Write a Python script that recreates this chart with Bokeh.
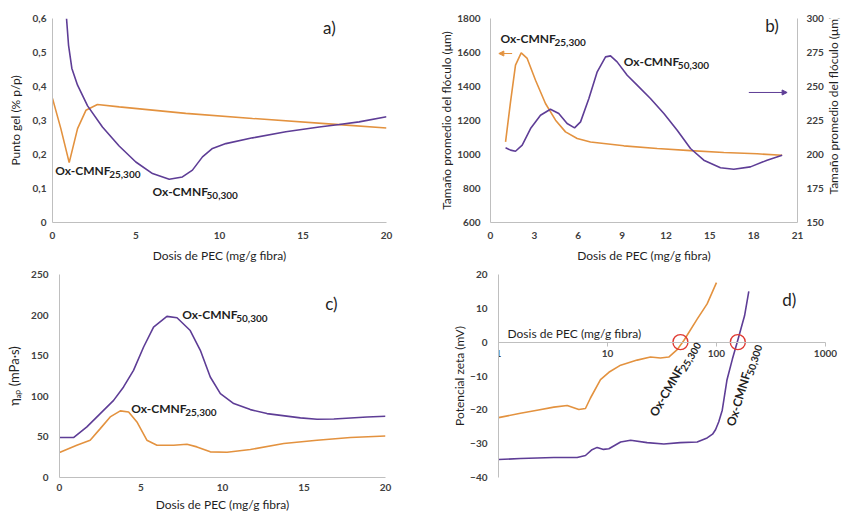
import math
from bokeh.plotting import figure
from bokeh.layouts import row, column
from bokeh.models import (Range1d, LinearAxis, FixedTicker, CustomJSTickFormatter,
                          PrintfTickFormatter, Label, Arrow, NormalHead)
from bokeh.embed import file_html
from bokeh.resources import INLINE

ORANGE = "#E3923F"
PURPLE = "#5E3D96"
FONT = "Lato"
TXT = "#1f1f1f"

# ---------------- data ----------------
# a) Punto gel vs dosis
a_xticks = [0, 5, 10, 15, 20]
a_yticks = [0, 0.1, 0.2, 0.3, 0.4, 0.5, 0.6]
a_org_x = [0, 0.5, 1.0, 1.5, 2.0, 2.69, 4.0, 7.98, 11.98, 17.17, 20]
a_org_y = [0.365, 0.276, 0.176, 0.276, 0.330, 0.347, 0.340, 0.321, 0.306, 0.288, 0.278]
a_pur_x = [0.84, 0.96, 1.16, 1.50, 2.10, 2.99, 3.99, 4.99, 5.99, 6.99, 7.78, 8.38,
           8.98, 9.58, 10.38, 11.98, 13.97, 15.97, 17.17, 18.36, 20]
a_pur_y = [0.600, 0.522, 0.453, 0.404, 0.343, 0.281, 0.225, 0.178, 0.144, 0.127, 0.134,
           0.154, 0.193, 0.218, 0.232, 0.249, 0.267, 0.281, 0.288, 0.296, 0.311]

# b) Tamano del floculo
b_xticks = [0, 3, 6, 9, 12, 15, 18, 21]
b_lticks = [600, 800, 1000, 1200, 1400, 1600, 1800]
b_rticks = [150, 175, 200, 225, 250, 275, 300]
b_org_x = [1.03, 1.37, 1.71, 2.10, 2.51, 3.08, 3.76, 4.45, 5.13, 5.93, 6.84, 9.12,
           11.4, 13.68, 15.96, 18.24, 19.95]
b_org_y = [1074, 1310, 1526, 1598, 1565, 1437, 1300, 1202, 1133, 1094, 1074, 1051,
           1035, 1023, 1012, 1004, 996]
b_pur_x = [1.03, 1.37, 1.71, 2.17, 2.74, 3.42, 4.10, 4.67, 5.24, 5.75, 6.16, 6.73,
           7.30, 7.87, 8.21, 8.66, 9.35, 10.03, 10.94, 11.86, 12.77, 13.68, 14.59,
           15.73, 16.64, 17.78, 18.92, 19.95]
b_pur_y = [204.9, 203.2, 202.4, 206.9, 219.1, 228.9, 233.3, 230.1, 222.8, 219.6, 224.0,
           241.2, 260.8, 271.8, 272.5, 268.1, 258.3, 251.0, 241.2, 230.1, 217.9, 204.4,
           195.8, 190.2, 189.2, 190.9, 195.8, 199.5]

# c) Viscosidad aparente
c_xticks = [0, 5, 10, 15, 20]
c_yticks = [0, 50, 100, 150, 200, 250]
c_pur_x = [0, 0.86, 1.68, 2.50, 3.32, 3.93, 4.54, 5.16, 5.77, 6.59, 7.21, 8.02, 8.64,
           9.25, 9.87, 10.69, 11.71, 12.73, 14.78, 15.8, 16.83, 18.87, 20]
c_pur_y = [49.2, 49.2, 62.3, 78.7, 95, 111.5, 132, 160.7, 185.2, 198.4, 196.7, 181,
           156.6, 123.8, 103.3, 91, 83.6, 78.7, 73.4, 71.7, 72.1, 74.6, 75.4]
c_org_x = [0, 1.06, 1.88, 2.5, 3.11, 3.73, 4.24, 4.75, 5.36, 5.98, 7.0, 7.82, 8.43,
           9.25, 10.28, 11.71, 13.76, 15.8, 17.85, 20]
c_org_y = [30.7, 39.8, 45.9, 60.2, 74.6, 82, 80.7, 68.4, 45.9, 39.8, 39.8, 41, 37.7,
           31.6, 31.1, 34.4, 41.8, 45.9, 49.2, 51.2]

# d) Potencial zeta (x logaritmico)
d_xticks = [1, 10, 100, 1000]
d_yticks = [-40, -30, -20, -10, 0, 10, 20]
d_org_x = [1.0, 1.59, 2.26, 3.22, 4.27, 5.46, 6.28, 6.98, 8.63, 10.3, 13.2, 18.7,
           24.8, 30.6, 36.5, 43.6, 50.2, 66.5, 82.1, 100]
d_org_y = [-22.3, -21.0, -20.1, -19.2, -18.7, -19.9, -19.6, -16.5, -11.1, -8.9, -6.8,
           -5.3, -4.4, -4.7, -4.4, -2.2, 0.5, 6.8, 11.3, 17.6]
d_pur_x = [1.0, 1.59, 3.22, 5.27, 6.28, 7.13, 8.04, 9.2, 10.3, 13.2, 16.3, 23.1, 32.9,
           46.5, 66.5, 82.1, 92, 98, 105, 113, 125, 140, 155, 181, 198]
d_pur_y = [-34.7, -34.4, -34.1, -34.1, -33.5, -31.9, -31.1, -31.7, -31.5, -29.5, -29.0,
           -29.7, -30.1, -29.7, -29.5, -28.3, -27.2, -25.9, -23.5, -20.1, -11.1, -5.0,
           0.0, 7.8, 15.0]
d_iep_x = [46.7, 157]   # puntos isoelectricos marcados
d_iep_y = [0, 0]

X_TITLE = "Dosis de PEC (mg/g fibra)"
B_Y_TITLE = "Tamaño promedio del flóculo (μm)"


# ---------------- helpers ----------------
def base_fig(w, h, left, right, top, bottom, xr, yr, x_axis_type="linear"):
    p = figure(width=w, height=h, x_range=xr, y_range=yr, x_axis_type=x_axis_type,
               output_backend="svg", toolbar_location=None,
               min_border_left=left, min_border_right=right,
               min_border_top=top, min_border_bottom=bottom)
    p.outline_line_color = None
    p.xgrid.visible = False
    p.ygrid.visible = False
    p.background_fill_color = "white"
    p.border_fill_color = "white"
    return p


def style_axis(ax):
    ax.axis_line_color = "#BFBFBF"
    ax.axis_line_width = 1
    ax.major_tick_line_color = None
    ax.minor_tick_line_color = None
    ax.major_tick_out = 0
    ax.major_tick_in = 0
    ax.major_label_text_font = FONT
    ax.major_label_text_font_size = "10px"
    ax.major_label_text_font_style = "bold"
    ax.major_label_text_color = "#404040"
    ax.axis_label_text_font = FONT
    ax.axis_label_text_font_size = "12px"
    ax.axis_label_text_font_style = "normal"
    ax.axis_label_text_color = TXT


def ox_label(p, x, y, sub, angle=0.0, **kw):
    w = 54.0
    c, s = math.cos(angle), math.sin(angle)
    common = dict(angle=angle, text_font=FONT, text_font_style="bold", text_color=TXT,
                  text_baseline="middle", text_align="left", **kw)
    p.add_layout(Label(x=x, y=y, text="Ox-CMNF", text_font_size="12px", **common))
    p.add_layout(Label(x=x, y=y, x_offset=w * c + 4 * s, y_offset=w * s - 4 * c,
                       text=sub, text_font_size="10px", **common))


def panel_tag(p, x, y, text):
    p.add_layout(Label(x=x, y=y, text=text, text_font=FONT, text_font_size="17px",
                       text_color=TXT, text_baseline="middle", text_align="left"))


# ---------------- a) ----------------
pa = base_fig(420, 266, 52, 34, 18, 44, Range1d(0, 20), Range1d(0, 0.6))
for ax in (pa.xaxis[0], pa.yaxis[0]):
    style_axis(ax)
pa.xaxis.ticker = FixedTicker(ticks=a_xticks)
pa.yaxis.ticker = FixedTicker(ticks=a_yticks)
pa.yaxis.formatter = CustomJSTickFormatter(
    code="return tick == 0 ? '0' : tick.toFixed(1).replace('.', ',');")
pa.xaxis.axis_label = X_TITLE
pa.yaxis.axis_label = "Punto gel (% p/p)"
pa.xaxis.major_label_standoff = 9
pa.xaxis.axis_label_standoff = 6
pa.yaxis.major_label_standoff = 6
pa.yaxis.axis_label_standoff = 7
pa.line(a_org_x, a_org_y, line_color=ORANGE, line_width=1.6)
pa.line(a_pur_x, a_pur_y, line_color=PURPLE, line_width=1.6)
ox_label(pa, 0.16, 0.154, "25,300")
ox_label(pa, 5.99, 0.090, "50,300")
panel_tag(pa, 16.2, 0.575, "a)")

# ---------------- b) ----------------
pb = base_fig(406, 266, 70, 29, 18, 44, Range1d(0, 21), Range1d(600, 1800))
pb.extra_y_ranges = {"right": Range1d(150, 300)}
rax = LinearAxis(y_range_name="right", ticker=FixedTicker(ticks=b_rticks))
pb.add_layout(rax, "right")
for ax in (pb.xaxis[0], pb.yaxis[0], rax):
    style_axis(ax)
pb.xaxis.ticker = FixedTicker(ticks=b_xticks)
pb.yaxis[0].ticker = FixedTicker(ticks=b_lticks)
pb.xaxis.axis_label = X_TITLE
pb.yaxis[0].axis_label = B_Y_TITLE
pb.xaxis.major_label_standoff = 9
pb.xaxis.axis_label_standoff = 6
pb.yaxis[0].major_label_standoff = 10
pb.yaxis[0].axis_label_standoff = 0
rax.major_label_standoff = 9
pb.line(b_org_x, b_org_y, line_color=ORANGE, line_width=1.6)
pb.line(b_pur_x, b_pur_y, line_color=PURPLE, line_width=1.6, y_range_name="right")
pb.add_layout(Arrow(end=NormalHead(size=5, fill_color=ORANGE, line_color=ORANGE),
                    x_start=1.48, y_start=1594, x_end=0.57, y_end=1594,
                    line_color=ORANGE, line_width=1))
pb.add_layout(Arrow(end=NormalHead(size=5, fill_color=PURPLE, line_color=PURPLE),
                    x_start=17.67, y_start=245.6, x_end=20.29, y_end=245.6,
                    line_color=PURPLE, line_width=1, y_range_name="right"))
ox_label(pb, 0.68, 1682, "25,300")
ox_label(pb, 9.12, 1545, "50,300")
panel_tag(pb, 18.8, 1757, "b)")

# title of the secondary (right) axis, reading bottom-to-top as in the reference
pr = figure(width=16, height=266, x_range=Range1d(0, 1), y_range=Range1d(0, 1),
            output_backend="svg", toolbar_location=None, min_border=0,
            x_axis_location=None, y_axis_location=None)
pr.outline_line_color = None
pr.xgrid.visible = False
pr.ygrid.visible = False
pr.add_layout(Label(x=0.45, y=0.575, text=B_Y_TITLE, angle=math.pi / 2,
                    text_font=FONT, text_font_size="12px", text_color=TXT,
                    text_align="center", text_baseline="middle"))

# ---------------- c) ----------------
pc = base_fig(420, 248, 59, 35, 8, 37, Range1d(0, 20), Range1d(0, 250))
for ax in (pc.xaxis[0], pc.yaxis[0]):
    style_axis(ax)
pc.xaxis.ticker = FixedTicker(ticks=c_xticks)
pc.yaxis.ticker = FixedTicker(ticks=c_yticks)
pc.xaxis.axis_label = X_TITLE
pc.yaxis.axis_label = "ηₐₚ (mPa·s)"
pc.yaxis.axis_label_text_font_size = "13px"
pc.xaxis.major_label_standoff = 6
pc.xaxis.axis_label_standoff = 3
pc.yaxis.major_label_standoff = 11
pc.yaxis.axis_label_standoff = 6
pc.line(c_pur_x, c_pur_y, line_color=PURPLE, line_width=1.6)
pc.line(c_org_x, c_org_y, line_color=ORANGE, line_width=1.6)
ox_label(pc, 7.53, 200.7, "50,300")
ox_label(pc, 4.4, 84.6, "25,300")
panel_tag(pc, 16.3, 214, "c)")

# ---------------- d) ----------------
pd = base_fig(422, 248, 78, 5, 8, 17, Range1d(1, 1290), Range1d(-40, 20), x_axis_type="log")
for ax in (pd.xaxis[0], pd.yaxis[0]):
    style_axis(ax)
pd.xaxis.fixed_location = 0
pd.xaxis.bounds = (1, 1000)
pd.xaxis.ticker = FixedTicker(ticks=d_xticks)
pd.xaxis.formatter = PrintfTickFormatter(format="%d")
pd.xaxis.major_tick_line_color = "#BFBFBF"
pd.xaxis.major_tick_out = 4
pd.xaxis.major_label_standoff = 4
pd.yaxis.ticker = FixedTicker(ticks=d_yticks)
pd.yaxis.axis_label = "Potencial zeta (mV)"
pd.yaxis.major_label_standoff = 11
pd.yaxis.axis_label_standoff = 0
pd.line(d_org_x, d_org_y, line_color=ORANGE, line_width=1.6)
pd.line(d_pur_x, d_pur_y, line_color=PURPLE, line_width=1.6)
pd.scatter(d_iep_x, d_iep_y, marker="circle", size=15, fill_color=None,
           line_color="#E03A33", line_width=1.4)
pd.add_layout(Label(x=1.21, y=2.7, text=X_TITLE, text_font=FONT, text_font_size="12px",
                    text_color=TXT, text_baseline="middle", text_align="left"))
ox_label(pd, 25.9, -21.6, "25,300", angle=math.radians(60))
ox_label(pd, 134, -24.7, "50,300", angle=math.radians(73))
panel_tag(pd, 401, 12.7, "d)")

layout = column(row(pa, pb, pr), row(pc, pd))
open("out.html", "w").write(file_html(layout, INLINE))
